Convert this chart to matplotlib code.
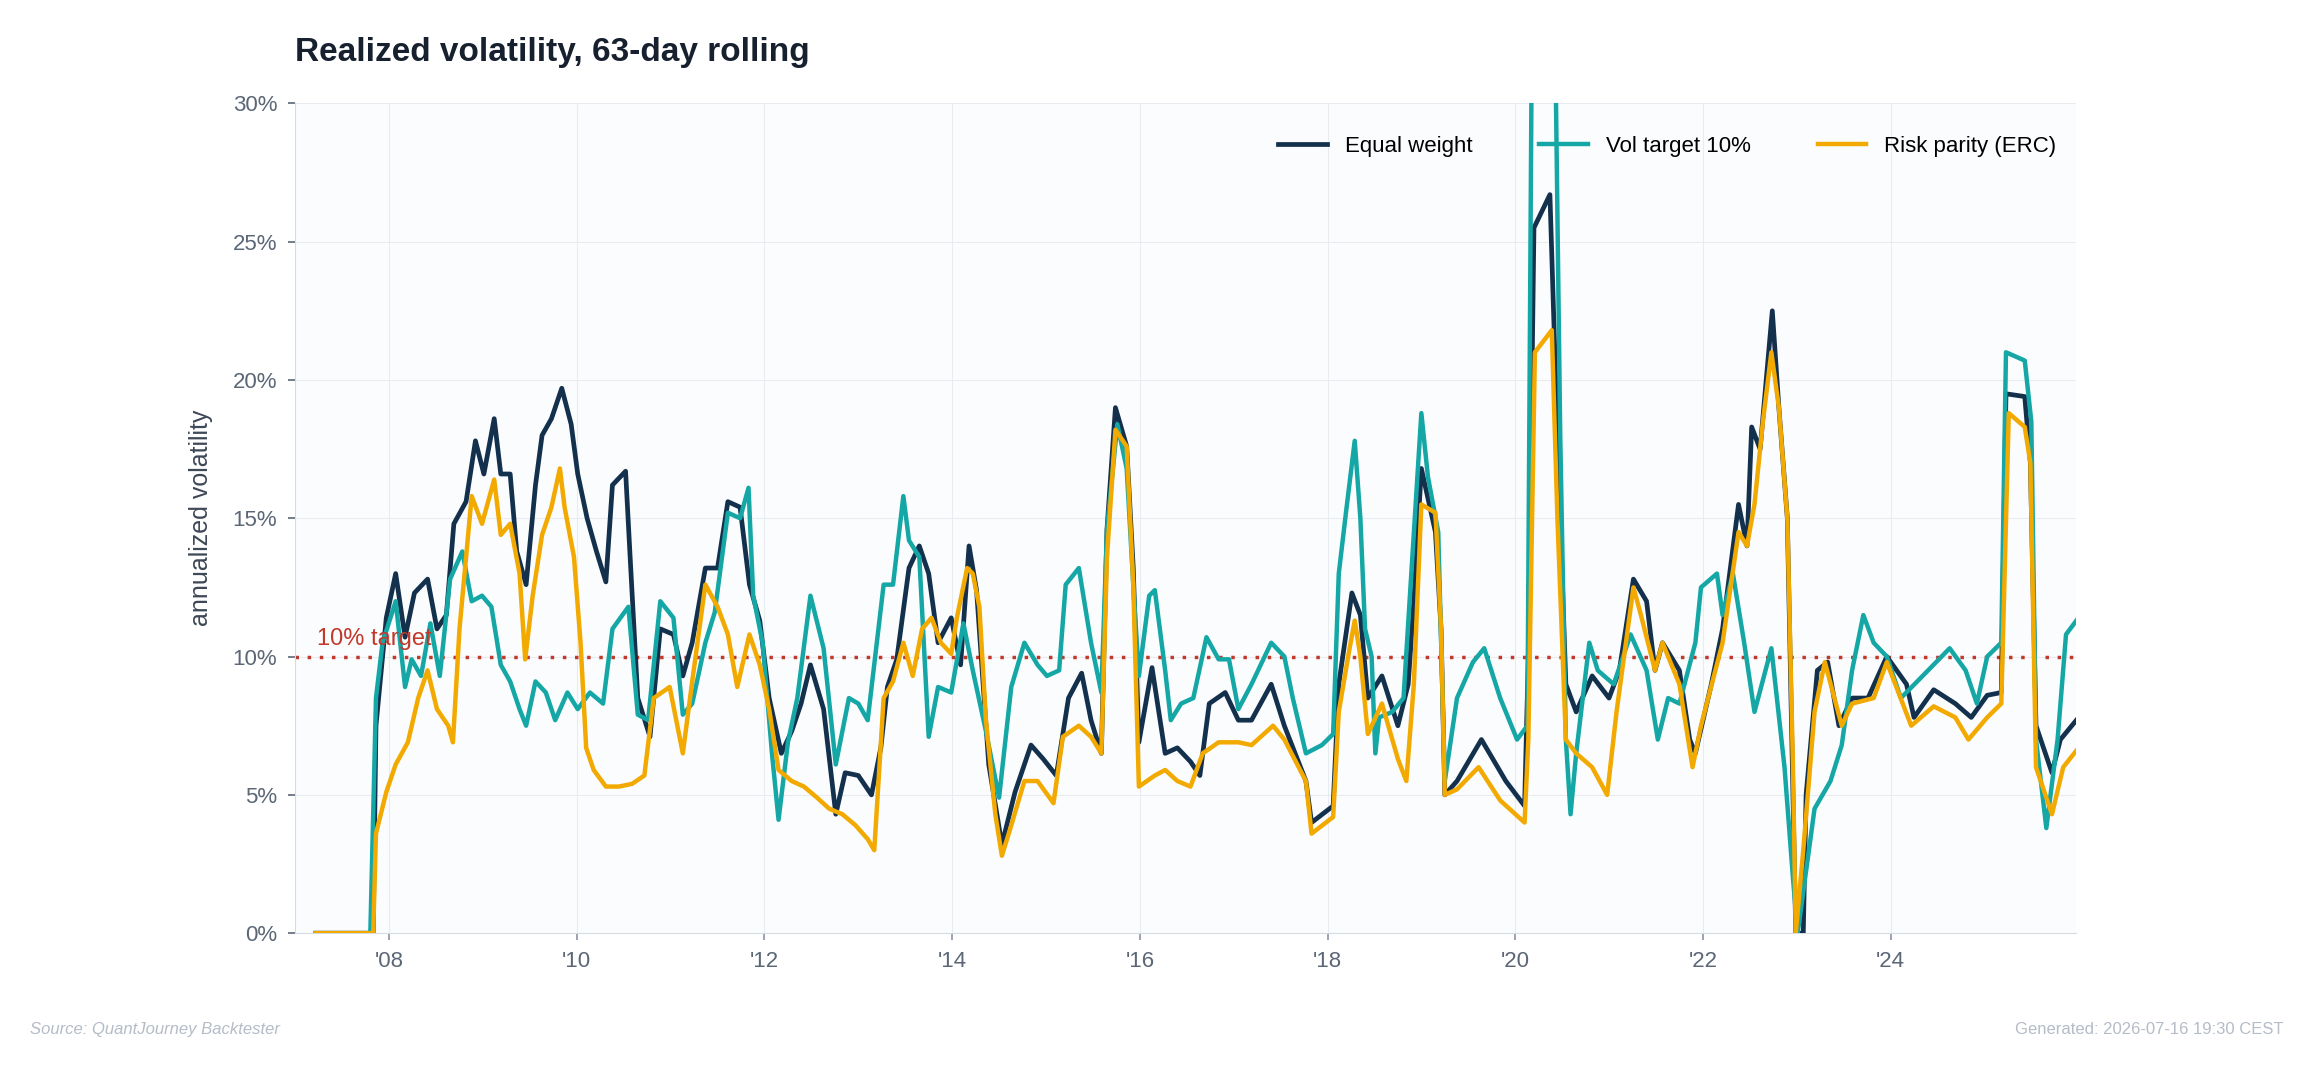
import numpy as np
import matplotlib.pyplot as plt

# dates as decimal years, values in % annualized vol
ew_t = [2007.22, 2007.83, 2007.86, 2007.97, 2008.07, 2008.17, 2008.27, 2008.41, 2008.51, 2008.61, 2008.69, 2008.82,
        2008.92, 2009.01, 2009.12, 2009.19, 2009.29, 2009.36, 2009.46, 2009.56, 2009.63, 2009.73, 2009.84, 2009.94,
        2010.01, 2010.11, 2010.21, 2010.31, 2010.38, 2010.52, 2010.57, 2010.65, 2010.78, 2010.89, 2011.03, 2011.13,
        2011.23, 2011.37, 2011.5, 2011.61, 2011.74, 2011.84, 2011.95, 2012.05, 2012.18, 2012.29, 2012.39, 2012.49,
        2012.63, 2012.76, 2012.86, 2013.0, 2013.14, 2013.24, 2013.31, 2013.41, 2013.54, 2013.65, 2013.75, 2013.85,
        2013.99, 2014.09, 2014.18, 2014.26, 2014.39, 2014.53, 2014.67, 2014.84, 2014.97, 2015.11, 2015.24, 2015.38,
        2015.48, 2015.59, 2015.65, 2015.74, 2015.86, 2015.93, 2015.99, 2016.13, 2016.27, 2016.4, 2016.54, 2016.64,
        2016.74, 2016.91, 2017.05,
        2017.19, 2017.4, 2017.54, 2017.77, 2017.83, 2018.06, 2018.12, 2018.26, 2018.35, 2018.43, 2018.58, 2018.75,
        2018.86, 2018.92, 2019.0, 2019.15, 2019.21, 2019.25, 2019.38, 2019.64, 2019.9, 2020.1, 2020.14, 2020.2,
        2020.37, 2020.45, 2020.54, 2020.65, 2020.82, 2021.0, 2021.11, 2021.26, 2021.4, 2021.49, 2021.57, 2021.75,
        2021.86, 2021.92, 2022.09, 2022.21, 2022.38, 2022.47, 2022.52, 2022.61, 2022.74, 2022.81, 2022.9, 2022.96,
        2022.99, 2023.07, 2023.1, 2023.22, 2023.33, 2023.45, 2023.59, 2023.76, 2023.96, 2024.17, 2024.25, 2024.46,
        2024.69, 2024.86, 2025.03, 2025.18, 2025.23, 2025.43, 2025.49, 2025.55, 2025.72, 2025.81, 2025.98]
ew_v = [0, 0, 7.5, 11.4, 13, 10.7, 12.3, 12.8, 11, 11.5, 14.8, 15.6,
        17.8, 16.6, 18.6, 16.6, 16.6, 13.8, 12.6, 16.2, 18, 18.6, 19.7, 18.4,
        16.6, 15, 13.8, 12.7, 16.2, 16.7, 13.5, 8.5, 7.1, 11, 10.8, 9.3,
        10.5, 13.2, 13.2, 15.6, 15.4, 12.6, 11.3, 8.5, 6.5, 7.3, 8.3, 9.7,
        8.1, 4.3, 5.8, 5.7, 5, 6.7, 8.9, 9.9, 13.2, 14, 13, 10.5,
        11.4, 9.7, 14, 12.4, 6.1, 3.2, 5.1, 6.8, 6.3, 5.7, 8.5, 9.4,
        7.7, 6.5, 14.6, 19, 17.6, 13.2, 6.9, 9.6, 6.5, 6.7, 6.2, 5.7,
        8.3, 8.7, 7.7,
        7.7, 9.0, 7.5, 5.5, 4.0, 4.6, 9, 12.3, 11.5, 8.5, 9.3, 7.5,
        9.0, 12, 16.8, 14.5, 11, 5, 5.5, 7.0, 5.5, 4.6, 10, 25.5,
        26.7, 18, 9, 8, 9.3, 8.5, 9.5, 12.8, 12, 9.5, 10.5, 9.5,
        7, 6.5, 9, 11, 15.5, 14, 18.3, 17.5, 22.5, 19, 15, 5,
        0, 0, 5, 9.5, 9.8, 7.5, 8.5, 8.5, 10, 9, 7.8, 8.8,
        8.3, 7.8, 8.6, 8.7, 19.5, 19.4, 17, 7.5, 5.8, 7, 7.7]

vt_t = [2007.22, 2007.8, 2007.86, 2007.93, 2008.07, 2008.17, 2008.24, 2008.34, 2008.44, 2008.54, 2008.65, 2008.78,
        2008.88, 2008.99, 2009.09, 2009.19, 2009.29, 2009.39, 2009.46, 2009.56, 2009.67, 2009.77, 2009.9, 2010.01,
        2010.14, 2010.28, 2010.38, 2010.55, 2010.65, 2010.76, 2010.89, 2011.03, 2011.13, 2011.23, 2011.37, 2011.47,
        2011.61, 2011.74, 2011.83, 2011.88, 2011.98, 2012.08, 2012.15, 2012.25, 2012.35, 2012.49, 2012.63, 2012.76,
        2012.9, 2013.0, 2013.1, 2013.27, 2013.37, 2013.48, 2013.54, 2013.65, 2013.75, 2013.85, 2013.99, 2014.12,
        2014.22, 2014.36, 2014.5, 2014.63, 2014.77, 2014.91, 2015.01, 2015.14, 2015.21, 2015.35, 2015.48, 2015.59,
        2015.65, 2015.76, 2015.86, 2015.93, 2015.99, 2016.1, 2016.16, 2016.27, 2016.33, 2016.44, 2016.57, 2016.71,
        2016.84, 2016.95, 2017.05,
        2017.19, 2017.4, 2017.54, 2017.63, 2017.77, 2017.94, 2018.06, 2018.12, 2018.2, 2018.29, 2018.35, 2018.4,
        2018.47, 2018.51, 2018.55, 2018.69, 2018.81, 2018.92, 2019.0, 2019.07, 2019.18, 2019.25, 2019.38, 2019.55,
        2019.67, 2019.84, 2020.02, 2020.13, 2020.18, 2020.42, 2020.48, 2020.54, 2020.59, 2020.65, 2020.79, 2020.88,
        2021.05, 2021.23, 2021.4, 2021.52, 2021.63, 2021.75, 2021.92, 2021.98, 2022.15, 2022.21, 2022.32, 2022.44,
        2022.55, 2022.73, 2022.87, 2022.96, 2023.01, 2023.07, 2023.19, 2023.36, 2023.48, 2023.59, 2023.71, 2023.82,
        2023.96, 2024.11, 2024.4, 2024.63, 2024.8, 2024.92, 2025.03, 2025.18, 2025.23, 2025.43, 2025.5, 2025.55,
        2025.66, 2025.78, 2025.87, 2025.98]
vt_v = [0, 0, 8.5, 10.5, 12, 8.9, 9.9, 9.3, 11.2, 9.3, 12.8, 13.8,
        12, 12.2, 11.8, 9.7, 9.1, 8.1, 7.5, 9.1, 8.7, 7.7, 8.7, 8.1,
        8.7, 8.3, 11, 11.8, 7.9, 7.7, 12, 11.4, 7.9, 8.3, 10.5, 11.6,
        15.2, 15, 16.1, 12.2, 10.5, 6.5, 4.1, 6.9, 8.5, 12.2, 10.3, 6.1,
        8.5, 8.3, 7.7, 12.6, 12.6, 15.8, 14.2, 13.6, 7.1, 8.9, 8.7, 11.2,
        9.5, 7.3, 4.9, 8.9, 10.5, 9.7, 9.3, 9.5, 12.6, 13.2, 10.5, 8.7,
        14.6, 18.4, 16.8, 12.6, 9.3, 12.2, 12.4, 9.5, 7.7, 8.3, 8.5, 10.7,
        9.9, 9.9, 8.1,
        9, 10.5, 10, 8.5, 6.5, 6.8, 7.2, 13, 15.3, 17.8, 15, 11,
        10, 6.5, 7.8, 8, 8.5, 14.5, 18.8, 16.5, 14.5, 5.5, 8.5, 9.8,
        10.3, 8.5, 7, 7.5, 34, 34, 18, 7, 4.3, 6.5, 10.5, 9.5,
        9.0, 10.8, 9.5, 7, 8.5, 8.3, 10.5, 12.5, 13, 11.5, 13, 10.5,
        8, 10.3, 6, 2, 0, 1.5, 4.5, 5.5, 6.8, 9.5, 11.5, 10.5,
        10, 8.5, 9.5, 10.3, 9.5, 8.3, 10, 10.5, 21, 20.7, 18.5, 7,
        3.8, 7, 10.8, 11.3]

rp_t = [2007.22, 2007.83, 2007.86, 2007.97, 2008.07, 2008.2, 2008.31, 2008.41, 2008.51, 2008.63, 2008.68, 2008.75,
        2008.88, 2008.99, 2009.12, 2009.19, 2009.29, 2009.39, 2009.45, 2009.53, 2009.63, 2009.73, 2009.82, 2009.87,
        2009.97, 2010.04, 2010.1, 2010.18, 2010.31, 2010.45, 2010.59, 2010.72, 2010.82, 2010.99, 2011.13, 2011.23,
        2011.37, 2011.5, 2011.61, 2011.71, 2011.84, 2011.95, 2012.05, 2012.15, 2012.29, 2012.42, 2012.56, 2012.69,
        2012.83, 2012.97, 2013.1, 2013.17, 2013.27, 2013.37, 2013.48, 2013.58, 2013.68, 2013.78, 2013.88, 2013.99,
        2014.05, 2014.16, 2014.22, 2014.29, 2014.36, 2014.46, 2014.53, 2014.63, 2014.77, 2014.91, 2015.08, 2015.18,
        2015.35, 2015.48, 2015.59, 2015.65, 2015.74, 2015.86, 2015.93, 2015.99, 2016.16, 2016.27, 2016.4, 2016.54,
        2016.67, 2016.84, 2017.05,
        2017.19, 2017.42, 2017.54, 2017.77, 2017.83, 2018.06, 2018.12, 2018.23, 2018.29, 2018.35, 2018.43, 2018.58,
        2018.75, 2018.84, 2018.92, 2019.0, 2019.15, 2019.21, 2019.25, 2019.38, 2019.61, 2019.84, 2020.1, 2020.14,
        2020.21, 2020.39, 2020.45, 2020.54, 2020.65, 2020.82, 2020.98, 2021.08, 2021.26, 2021.34, 2021.49, 2021.57,
        2021.75, 2021.89, 2021.98, 2022.21, 2022.38, 2022.47, 2022.55, 2022.64, 2022.73, 2022.81, 2022.9, 2022.96,
        2022.99, 2023.07, 2023.19, 2023.3, 2023.48, 2023.59, 2023.82, 2023.96, 2024.22, 2024.46, 2024.69, 2024.83,
        2025.03, 2025.18, 2025.26, 2025.43, 2025.49, 2025.55, 2025.72, 2025.84, 2025.98]
rp_v = [0, 0, 3.6, 5.1, 6.1, 6.9, 8.5, 9.5, 8.1, 7.5, 6.9, 11,
        15.8, 14.8, 16.4, 14.4, 14.8, 13, 9.9, 12.2, 14.4, 15.4, 16.8, 15.4,
        13.6, 10.5, 6.7, 5.9, 5.3, 5.3, 5.4, 5.7, 8.5, 8.9, 6.5, 9.1,
        12.6, 11.8, 10.8, 8.9, 10.8, 9.7, 8.1, 5.9, 5.5, 5.3, 4.9, 4.5,
        4.3, 3.9, 3.4, 3.0, 8.5, 9.1, 10.5, 9.3, 11.0, 11.4, 10.5, 10.1,
        11.4, 13.2, 13, 11.8, 7.7, 4.3, 2.8, 3.9, 5.5, 5.5, 4.7, 7.1,
        7.5, 7.1, 6.5, 13.6, 18.2, 17.6, 12.6, 5.3, 5.7, 5.9, 5.5, 5.3,
        6.5, 6.9, 6.9,
        6.8, 7.5, 7, 5.5, 3.6, 4.2, 8, 10.2, 11.3, 10, 7.2, 8.3,
        6.3, 5.5, 9, 15.5, 15.2, 11, 5, 5.2, 6, 4.8, 4, 7,
        21, 21.8, 15, 7, 6.5, 6, 5, 8, 12.5, 11.5, 9.5, 10.5,
        9, 6, 7.5, 10.5, 14.5, 14, 15.5, 18.5, 21, 19, 15, 6,
        0, 3, 8, 9.8, 7.5, 8.3, 8.5, 9.8, 7.5, 8.2, 7.8, 7,
        7.8, 8.3, 18.8, 18.3, 17, 6, 4.3, 6, 6.6]

years = [2008, 2010, 2012, 2014, 2016, 2018, 2020, 2022, 2024]
year_labels = ["'08", "'10", "'12", "'14", "'16", "'18", "'20", "'22", "'24"]

plt.rcParams['font.family'] = ['Liberation Sans', 'DejaVu Sans']
fig = plt.figure(figsize=(23.14, 10.72), dpi=100)
ax = fig.add_axes([0.1276, 0.1295, 0.7697, 0.7741])
ax.set_facecolor('#fbfcfe')

ax.plot(ew_t, ew_v, color='#13304d', lw=3.4, label='Equal weight', zorder=3)
ax.plot(vt_t, vt_v, color='#14a7a5', lw=3.2, label='Vol target 10%', zorder=4)
ax.plot(rp_t, rp_v, color='#f2a900', lw=3.2, label='Risk parity (ERC)', zorder=5)

ax.axhline(10, color='#c0392b', ls=(0, (1, 2.5)), lw=2.5, zorder=2)
ax.text(2007.23, 10.25, '10% target', color='#c0392b', fontsize=17, va='bottom', zorder=6)

ax.set_xlim(2007.0, 2025.98)
ax.set_ylim(0, 30)
ax.set_xticks(years)
ax.set_xticklabels(year_labels)
ax.set_yticks(range(0, 31, 5))
ax.set_yticklabels([f'{v}%' for v in range(0, 31, 5)])
ax.tick_params(labelsize=16, colors='#5b6676', length=5, width=1.2, pad=8)
ax.tick_params(axis='x', colors='#8a94a3', labelcolor='#5b6676')
ax.grid(color='#e8ecf1', lw=0.8)
for s in ['top', 'right']:
    ax.spines[s].set_visible(False)
for s in ['left', 'bottom']:
    ax.spines[s].set_color('#d5dbe3')
ax.set_ylabel('annualized volatility', fontsize=18, color='#3d4756', labelpad=14)

ax.legend(loc='upper right', ncol=3, frameon=False, fontsize=16, handlelength=2.2,
          columnspacing=3, bbox_to_anchor=(1.0, 0.985))

fig.text(0.1276, 0.943, 'Realized volatility, 63-day rolling', fontsize=24, fontweight='bold', color='#17202e')
fig.text(0.013, 0.035, 'Source: QuantJourney Backtester', fontsize=12, style='italic', color='#b5bcc7')
fig.text(0.987, 0.035, 'Generated: 2026-07-16 19:30 CEST', fontsize=12, color='#b5bcc7', ha='right')

fig.savefig('out.png', dpi=100, facecolor='white')
